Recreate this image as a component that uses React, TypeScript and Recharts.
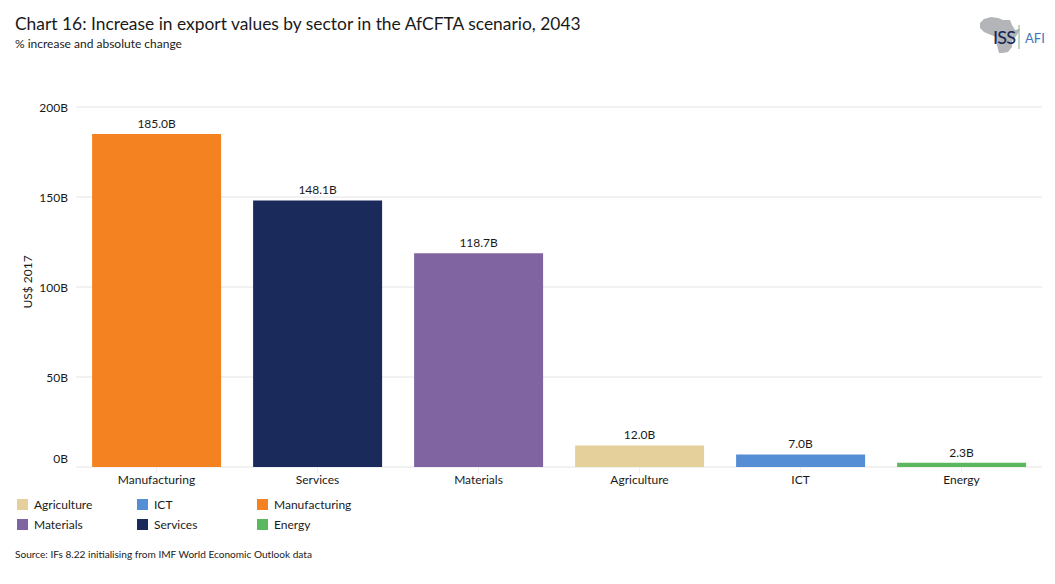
import { BarChart, Bar, Cell, XAxis, YAxis, CartesianGrid, LabelList } from 'recharts';

const sectors = ['Manufacturing', 'Services', 'Materials', 'Agriculture', 'ICT', 'Energy'];
const increases = [185.0, 148.1, 118.7, 12.0, 7.0, 2.3];
const barColors = ['#F58220', '#1A2A5A', '#8064A2', '#E5CF9B', '#558ED5', '#5CB85F'];
const yTicks = [0, 50, 100, 150, 200];
const legendNames = ['Agriculture', 'ICT', 'Manufacturing', 'Materials', 'Services', 'Energy'];
const legendColors = ['#E5CF9B', '#558ED5', '#F58220', '#8064A2', '#1A2A5A', '#5CB85F'];

const FONT = 'Lato, "Open Sans", sans-serif';
const TEXT = '#1a1a1a';

const data = sectors.map((name, i) => ({ name, value: increases[i] }));

// 0B sits above the baseline in the original, the rest are centred on their gridline
function YTick({ x, y, payload }: any) {
  const shift = payload.value === 0 ? -8 : 1;
  return (
    <text x={x} y={y + shift} dy={4} textAnchor="end" fontSize={12} fill={TEXT} fontFamily={FONT}>
      {payload.value}B
    </text>
  );
}

function Logo() {
  return (
    <svg width={80} height={60} viewBox="0 0 80 60" style={{ position: 'absolute', left: 975, top: 8 }}>
      <path
        d="M5 15 L9 11 L16 9 L23 10 L28 12 L35 12 L37 17 L40 22 L45 21 L42 27 L37 33 L37 39 L33 44 L28 45 L24 45 L22 37 L21 29 L16 27 L9 24 L5 20 Z"
        fill="#B4B5B8"
      />
      <text x={18} y={36} fontSize={18} fontWeight={500} fontFamily={FONT} fill="#1A2A5A" textLength={23}>ISS</text>
      <line x1={44} y1={17} x2={44} y2={41} stroke="#7FB08A" strokeWidth={1} />
      <text x={50} y={35} fontSize={13} fontFamily={FONT} fill="#3F77B5">AFI</text>
    </svg>
  );
}

function ChartLegend() {
  return (
    <div
      style={{
        position: 'absolute',
        left: 17,
        top: 494,
        width: 360,
        display: 'grid',
        gridTemplateColumns: '120px 120px 120px',
        gridAutoRows: '20px',
        fontFamily: FONT,
        fontSize: 12,
        color: TEXT,
      }}
    >
      {legendNames.map((name, i) => (
        <div key={name} style={{ display: 'flex', alignItems: 'center' }}>
          <span style={{ width: 11, height: 11, background: legendColors[i], marginRight: 6 }} />
          {name}
        </div>
      ))}
    </div>
  );
}

export default function App() {
  return (
    <div style={{ position: 'absolute', left: 0, top: 0, width: 1055, height: 584, background: '#fff', fontFamily: FONT, color: TEXT }}>
      <div style={{ position: 'absolute', left: 15, top: 13, fontSize: 17.4, whiteSpace: 'nowrap' }}>
        Chart 16: Increase in export values by sector in the AfCFTA scenario, 2043
      </div>
      <div style={{ position: 'absolute', left: 15, top: 36, fontSize: 12, whiteSpace: 'nowrap' }}>
        % increase and absolute change
      </div>
      <Logo />
      <div style={{ position: 'absolute', left: 0, top: 0 }}>
        <BarChart
          width={1055}
          height={584}
          data={data}
          barCategoryGap="10%"
          margin={{ top: 107, right: 13, bottom: 87, left: 0 }}
        >
          <CartesianGrid vertical={false} stroke="#E4E4E4" />
          <XAxis
            dataKey="name"
            height={30}
            axisLine={false}
            tickLine={{ stroke: '#EEEEEE' }}
            tick={{ fontSize: 12, fill: TEXT, fontFamily: FONT }}
            tickMargin={2}
            interval={0}
          />
          <YAxis
            width={76}
            domain={[0, 200]}
            ticks={yTicks}
            axisLine={false}
            tickLine={false}
            tick={<YTick />}
            tickMargin={2}
            label={{
              content: () => (
                <text
                  transform="rotate(-90 32 282)"
                  x={32}
                  y={282}
                  textAnchor="middle"
                  fontSize={12}
                  fill={TEXT}
                  fontFamily={FONT}
                >
                  US$ 2017
                </text>
              ),
            }}
          />
          <Bar dataKey="value" isAnimationActive={false}>
            {data.map((d, i) => (
              <Cell key={d.name} fill={barColors[i]} />
            ))}
            <LabelList
              dataKey="value"
              position="top"
              offset={6}
              formatter={(v: any) => `${Number(v).toFixed(1)}B`}
              style={{ fontSize: 12, fill: TEXT, fontFamily: FONT }}
            />
          </Bar>
        </BarChart>
      </div>
      <ChartLegend />
      <div style={{ position: 'absolute', left: 15, top: 548, fontSize: 10.1, whiteSpace: 'nowrap' }}>
        Source: IFs 8.22 initialising from IMF World Economic Outlook data
      </div>
    </div>
  );
}
